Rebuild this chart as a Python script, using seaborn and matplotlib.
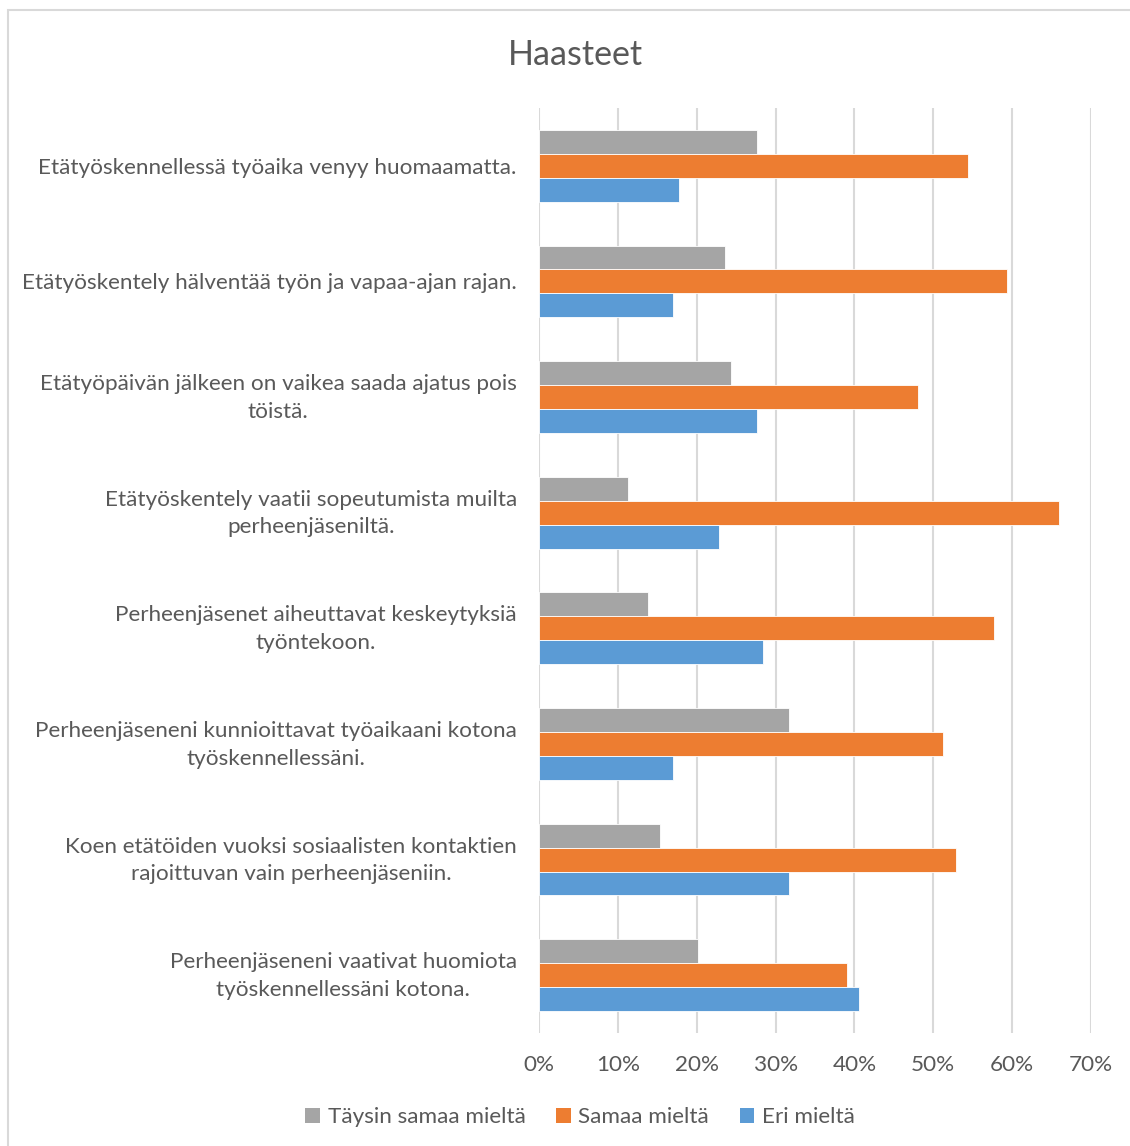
import matplotlib
matplotlib.use("Agg")
import matplotlib.pyplot as plt
import matplotlib.transforms as mtransforms
import seaborn as sns
import pandas as pd
from matplotlib.patches import Rectangle, Patch
from matplotlib.ticker import FuncFormatter

# ---------------- data ----------------
categories = [
    "Etätyöskennellessä työaika venyy huomaamatta.",
    "Etätyöskentely hälventää työn ja vapaa-ajan rajan.",
    "Etätyöpäivän jälkeen on vaikea saada ajatus pois\ntöistä.",
    "Etätyöskentely vaatii sopeutumista muilta\nperheenjäseniltä.",
    "Perheenjäsenet aiheuttavat keskeytyksiä\ntyöntekoon.",
    "Perheenjäseneni kunnioittavat työaikaani kotona\ntyöskennellessäni.",
    "Koen etätöiden vuoksi sosiaalisten kontaktien\nrajoittuvan vain perheenjäseniin.",
    "Perheenjäseneni vaativat huomiota\ntyöskennellessäni kotona.",
]
series_names = ["Täysin samaa mieltä", "Samaa mieltä", "Eri mieltä"]
taysin_samaa = [27.6, 23.6, 24.4, 11.3, 13.8, 31.7, 15.4, 20.2]
samaa = [54.4, 59.3, 48.0, 65.9, 57.7, 51.2, 52.9, 39.0]
eri = [17.8, 17.0, 27.6, 22.8, 28.4, 17.0, 31.7, 40.6]
x_ticks = [0, 10, 20, 30, 40, 50, 60, 70]
title = "Haasteet"

colors = ["#A5A5A5", "#ED7D31", "#5B9BD5"]
text_color = "#595959"
grid_color = "#D9D9D9"

rows = []
for name, vals in zip(series_names, [taysin_samaa, samaa, eri]):
    for cat, v in zip(categories, vals):
        rows.append({"Kategoria": cat, "Vastaus": name, "Osuus": v})
df = pd.DataFrame(rows)

# ---------------- plot ----------------
sns.set_theme(style="white")
plt.rcParams["font.family"] = ["Lato", "DejaVu Sans"]

FS = 16.2
W, H = 1130, 1146
fig = plt.figure(figsize=(W / 100, H / 100), dpi=100)
left, right, top, bottom = 539, 1091, 108, 1033
ax = fig.add_axes([left / W, 1 - bottom / H, (right - left) / W, (bottom - top) / H])

sns.barplot(
    data=df, y="Kategoria", x="Osuus", hue="Vastaus",
    order=categories, hue_order=series_names, palette=colors,
    orient="h", width=0.62, ax=ax, errorbar=None,
    edgecolor="white", linewidth=0.6, saturation=1, legend=False,
)

ax.set_xlim(0, 70)
ax.set_ylim(len(categories) - 0.5, -0.5)
ax.set_xticks(x_ticks)
ax.xaxis.set_major_formatter(FuncFormatter(lambda v, p: f"{int(v)}%"))
ax.grid(axis="x", color=grid_color, linewidth=1.5)
ax.grid(axis="y", visible=False)
ax.set_axisbelow(True)
for s in ax.spines.values():
    s.set_visible(False)
ax.set_xlabel("")
ax.set_ylabel("")
ax.tick_params(axis="x", length=0, pad=16, labelsize=FS, labelcolor=text_color)
ax.tick_params(axis="y", length=0, pad=16, labelsize=FS, labelcolor=text_color)
shift_up = mtransforms.ScaledTranslation(0, 5 / 100, fig.dpi_scale_trans)
for lab in ax.get_yticklabels():
    lab.set_multialignment("center")
    lab.set_linespacing(1.48)
    if "\n" in lab.get_text():
        lab.set_transform(lab.get_transform() + shift_up)

fig.text(575 / W, 1 - 55 / H, title, ha="center", va="center",
         fontsize=24.5, color=text_color)

handles = [Patch(facecolor=c, edgecolor="none") for c in colors]
fig.legend(handles, series_names, loc="center", ncol=3,
           bbox_to_anchor=(580 / W, 1 - 1117 / H), frameon=False,
           fontsize=FS, labelcolor=text_color,
           handlelength=0.65, handleheight=0.65, handletextpad=0.35,
           columnspacing=1.35)

fig.patches.append(Rectangle((8 / W, -0.1), 1.2, 1.1 - 10 / H,
                             transform=fig.transFigure, fill=False,
                             edgecolor=grid_color, linewidth=1.5))

fig.savefig("out.png", dpi=100)
